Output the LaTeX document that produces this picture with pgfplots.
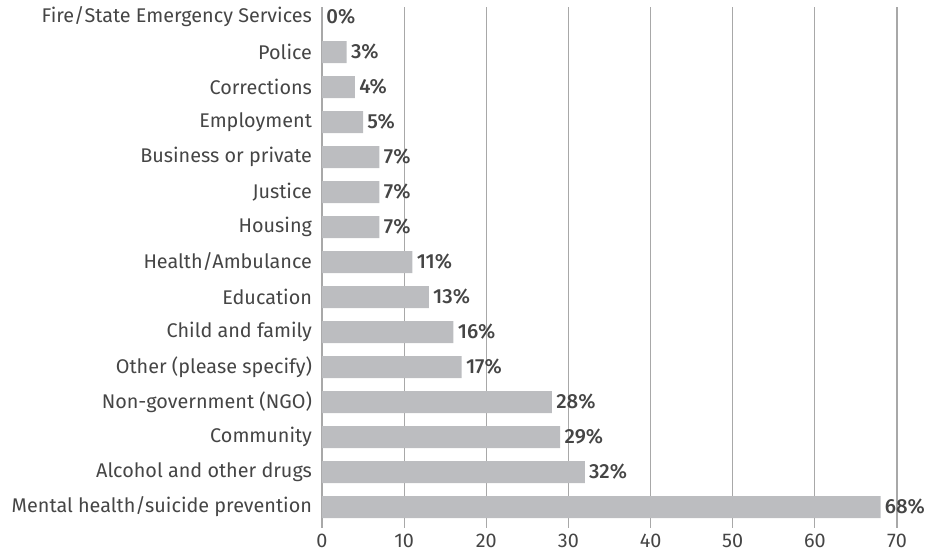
\documentclass[border=0pt]{standalone}
\usepackage{pgfplots}
\pgfplotsset{compat=1.18}
\usepackage{fontspec}
\setmainfont{Fira Sans}[BoldFont={Fira Sans Medium}]
\definecolor{barc}{HTML}{BCBDC0}
\definecolor{gridc}{HTML}{A8A8A8}
\definecolor{txt}{HTML}{454545}
\begin{document}
\begin{tikzpicture}
\path[use as bounding box] (-161pt,-12.5pt) rectangle (305pt,264pt);
\begin{axis}[
  scale only axis,
  width=287.5pt, height=260.5pt,
  xmin=0, xmax=70,
  ymin=-0.286, ymax=14.6,
  y dir=reverse,
  xbar, bar width=11pt,
  axis line style={draw=none},
  major tick length=0pt,
  xtick={0,10,...,70},
  xmajorgrids, grid style={gridc, line width=0.6pt},
  ytick={0,...,14},
  yticklabels={Fire/State Emergency Services,Police,Corrections,Employment,Business or private,Justice,Housing,Health/Ambulance,Education,Child and family,Other (please specify),Non-government (NGO),Community,Alcohol and other drugs,Mental health/suicide prevention},
  tick label style={font=\fontsize{9.9}{12}\selectfont, text=txt},
  yticklabel style={xshift=-1.5pt},
  xticklabel style={yshift=0.5pt},
  /pgf/number format/assume math mode=true,
  point meta=x,
  nodes near coords={\pgfmathprintnumber{\pgfplotspointmeta}\%},
  nodes near coords style={font=\fontsize{10.2}{12}\selectfont\bfseries, text=txt, inner sep=0pt, xshift=2pt, anchor=west},
]
\addplot[fill=barc, draw=none] coordinates {
(0,0) (3,1) (4,2) (5,3) (7,4) (7,5) (7,6) (11,7) (13,8) (16,9) (17,10) (28,11) (29,12) (32,13) (68,14)
};
\end{axis}
\end{tikzpicture}
\end{document}
